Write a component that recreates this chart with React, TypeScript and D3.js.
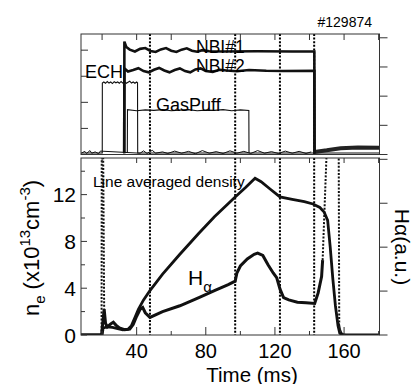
import * as d3 from "d3";

// time axis (ms)
const timeDomain: [number, number] = [7.8, 180.5];
const timeTicks = [20, 40, 60, 80, 100, 120, 140, 160, 180];
const timeLabels = [40, 80, 120, 160];
const eventTimes = [47.7, 97, 122.9, 142.7];

// lower panel axes
const densityTicks = [0, 4, 8, 12];
const densityMinor = [2, 6, 10, 14];
const haTicks = [0, 1, 2, 3, 4];

// upper panel axes (arbitrary units)
const topLeftTicks = [1, 2, 3, 4];
const topRightTicks = [0, 1, 2, 3, 4];

// upper panel traces: [time, level]
const nbi1: [number, number][] = [
  [32.8, 0.05], [32.9, 4.33], [34, 4.12], [36, 4.02], [39, 3.95], [42, 4.05], [45, 4.08], [48, 3.97],
  [51, 3.93], [54, 4.03], [57, 4.08], [60, 3.98], [63, 3.93], [66, 4.02], [69, 4.07], [72, 3.98],
  [75, 3.94], [78, 4.0], [82, 3.96], [90, 3.95], [110, 3.96], [130, 3.95], [142.8, 3.95], [142.9, 0.05],
];
const nbi2: [number, number][] = [
  [32.8, 0.05], [32.9, 3.3], [35, 3.18], [38, 3.24], [41, 3.31], [44, 3.2], [47, 3.15], [50, 3.25],
  [53, 3.32], [56, 3.22], [59, 3.15], [62, 3.24], [65, 3.3], [68, 3.2], [71, 3.15], [74, 3.26],
  [77, 3.3], [80, 3.2], [84, 3.17], [88, 3.25], [92, 3.22], [98, 3.19], [105, 3.24], [115, 3.21],
  [125, 3.2], [142.8, 3.21], [142.9, 0.05],
];
const nbiTail: [number, number][] = [[142.9, 0.1], [150, 0.16], [158, 0.24], [168, 0.27], [180.5, 0.26]];
const ech: [number, number][] = [
  [7.8, 0.06], [20.1, 0.06], [20.15, 2.74], [21, 2.78], [22, 2.73], [23, 2.8], [24, 2.74], [25, 2.78],
  [26, 2.72], [27, 2.79], [28, 2.75], [29, 2.78], [30, 2.73], [31, 2.8], [32, 2.74], [33, 2.78],
  [34, 2.73], [35, 2.77], [36, 2.81], [37, 2.74], [38, 2.78], [39, 2.73], [40, 2.78], [40.5, 2.75],
  [40.6, 0.06], [180.5, 0.06],
];
const gasPuff: [number, number][] = [
  [34.6, 0.06], [34.7, 1.72], [40, 1.68], [45, 1.71], [50, 1.69], [55, 1.72], [60, 1.68], [65, 1.7],
  [70, 1.72], [75, 1.68], [80, 1.7], [85, 1.69], [90, 1.72], [95, 1.68], [100, 1.71], [104.9, 1.69],
  [105, 0.06],
];
const topNoise: [number, number][] = [
  [8, 0.05], [10, 0.12], [11, 0.04], [13, 0.15], [14, 0.05], [16, 0.1], [18, 0.03], [19, 0.13],
  [42, 0.05], [44, 0.14], [46, 0.04], [49, 0.16], [51, 0.05], [55, 0.1], [58, 0.04], [62, 0.13],
  [66, 0.05], [70, 0.12], [74, 0.03], [78, 0.15], [82, 0.05], [86, 0.11], [90, 0.04], [94, 0.14],
  [98, 0.05], [102, 0.12], [106, 0.04], [110, 0.15], [114, 0.05], [118, 0.11], [122, 0.04],
  [126, 0.13], [130, 0.05], [134, 0.12], [138, 0.04], [141, 0.1],
];

// lower panel traces: [time, value]
const density: [number, number][] = [
  [7.8, 0], [20, 0], [20.6, 0.6], [23, 0.7], [26, 0.65], [29, 0.55], [32, 0.45], [35, 0.5], [37, 0.8],
  [39, 1.5], [41, 2.2], [44, 3.0], [47.7, 3.8], [55, 5.2], [65, 6.9], [76, 8.7], [85, 10.1], [97, 11.8],
  [103, 12.6], [108.5, 13.4], [112, 13.1], [117, 12.5], [122.9, 11.8], [130, 11.6], [137, 11.4],
  [142, 11.2], [146, 10.9], [148.5, 10.5], [150.5, 9.8], [152, 7.5], [153.5, 4.8], [155, 2.5],
  [156.5, 0.8], [157.5, 0.15], [159, 0], [180.5, 0],
];
const haMain: [number, number][] = [
  [7.8, 0], [19.7, 0], [21.2, 2.2], [22, 1.0], [23, 0.7], [25, 0.95], [26.5, 1.1], [28, 0.85], [30, 0.6],
  [33, 0.45], [36, 0.5], [38, 0.9], [40, 1.6], [42, 2.2], [43.5, 2.35], [45, 1.9], [47.7, 1.5], [55, 2.0],
  [65, 2.5], [76, 3.2], [85, 3.8], [93, 4.3], [97, 4.6], [98, 5.3], [100, 5.9], [104, 6.5], [108, 6.9],
  [110, 7.0], [113, 6.8], [116, 6.0], [119, 5.3], [121, 4.9], [123, 3.9], [125, 3.2], [128, 3.0],
  [133, 2.8], [138, 2.75], [143, 2.7], [145, 3.6], [147, 5.0], [147.6, 6.4],
];
const haStartSpike: [number, number][] = [[19.7, 0], [19.8, 16], [20.6, 16], [21.2, 2.2]];
const haRiseSpike: [number, number][] = [[147.6, 6.4], [150, 16]];
const haFallSpike: [number, number][] = [[156.9, 16], [157.2, 1.0]];
const haTail: [number, number][] = [[157.2, 1.0], [157.8, 0.5], [158.6, 0.2], [160, 0.05], [163, 0], [180.5, 0]];

const W = 414;
const H = 384;
const left = 81;
const right = 379.5;
const top1 = 34;
const bot1 = 154.5;
const top2 = 158;
const bot2 = 335;
const font = "'Liberation Sans', Arial, Helvetica, sans-serif";

export default function App() {
  const x = d3.scaleLinear().domain(timeDomain).range([left, right]);
  const yTop = d3.scaleLinear().domain([0, 4.62]).range([bot1, top1]);
  const yTopR = d3.scaleLinear().domain([0, 4.13]).range([bot1, top1]);
  const yDen = d3.scaleLinear().domain([0, 15.13]).range([bot2, top2]);
  const yHa = d3.scaleLinear().domain([0, 4.03]).range([bot2, top2]);

  const topLine = d3.line<[number, number]>().x((d) => x(d[0])).y((d) => yTop(d[1]));
  const botLine = d3.line<[number, number]>().x((d) => x(d[0])).y((d) => yDen(d[1]));

  return (
    <svg width={W} height={H} viewBox={`0 0 ${W} ${H}`} style={{ position: "absolute", left: 0, top: 0, background: "white" }} fontFamily={font}>
      <defs>
        <clipPath id="clipTop"><rect x={left} y={top1} width={right - left} height={bot1 - top1} /></clipPath>
        <clipPath id="clipBot"><rect x={left} y={top2} width={right - left} height={bot2 - top2} /></clipPath>
      </defs>
      <rect width={W} height={H} fill="white" />

      {/* event markers */}
      {eventTimes.map((t) => (
        <g key={t}>
          <line x1={x(t)} x2={x(t)} y1={top1} y2={bot1} stroke="#000" strokeWidth={2} strokeDasharray="2 1.6" />
          <line x1={x(t)} x2={x(t)} y1={top2} y2={bot2} stroke="#000" strokeWidth={2} strokeDasharray="2 1.6" />
        </g>
      ))}

      {/* upper panel traces */}
      <g clipPath="url(#clipTop)" fill="none" stroke="#111">
        <path d={topLine(topNoise) ?? ""} strokeWidth={1} />
        <path d={topLine(ech) ?? ""} strokeWidth={1.1} />
        <path d={topLine(gasPuff) ?? ""} strokeWidth={1.1} />
        <path d={topLine(nbiTail) ?? ""} strokeWidth={4} stroke="#222" />
        <path d={topLine(nbi2) ?? ""} strokeWidth={2.6} />
        <path d={topLine(nbi1) ?? ""} strokeWidth={2.6} />
      </g>

      {/* lower panel traces */}
      <g clipPath="url(#clipBot)" fill="none" stroke="#111">
        <path d={botLine(haStartSpike) ?? ""} strokeWidth={2} strokeDasharray="2 1.6" />
        <path d={botLine(haRiseSpike) ?? ""} strokeWidth={2} strokeDasharray="2 1.6" />
        <path d={botLine(haFallSpike) ?? ""} strokeWidth={2} strokeDasharray="2 1.6" />
        <path d={botLine(haTail) ?? ""} strokeWidth={1.3} />
        <path d={botLine(haMain) ?? ""} strokeWidth={3} />
        <path d={botLine(density) ?? ""} strokeWidth={2.8} />
      </g>

      {/* frames */}
      <rect x={left} y={top1} width={right - left} height={bot1 - top1} fill="none" stroke="#333" strokeWidth={1} />
      <rect x={left} y={top2} width={right - left} height={bot2 - top2} fill="none" stroke="#333" strokeWidth={1} />

      {/* time ticks */}
      {timeTicks.map((t) => (
        <g key={t} stroke="#333" strokeWidth={1}>
          <line x1={x(t)} x2={x(t)} y1={top1} y2={top1 + 6} />
          <line x1={x(t)} x2={x(t)} y1={top2} y2={top2 + 5} />
          <line x1={x(t)} x2={x(t)} y1={bot2} y2={bot2 - (timeLabels.includes(t) ? 8 : 4)} />
        </g>
      ))}

      {/* upper panel side ticks */}
      {topLeftTicks.map((v) => (
        <line key={`tl${v}`} x1={left} x2={left + 7} y1={yTop(v)} y2={yTop(v)} stroke="#333" />
      ))}
      {topRightTicks.map((v) => (
        <line key={`tr${v}`} x1={right} x2={right + 8} y1={yTopR(v)} y2={yTopR(v)} stroke="#333" />
      ))}

      {/* lower panel side ticks */}
      {densityTicks.concat(densityMinor).map((v) => (
        <line key={`dl${v}`} x1={left} x2={left + (densityTicks.includes(v) ? 6 : 4)} y1={yDen(v)} y2={yDen(v)} stroke="#333" />
      ))}
      {haTicks.map((v) => (
        <line key={`hr${v}`} x1={right} x2={right + 8} y1={yHa(v)} y2={yHa(v)} stroke="#333" />
      ))}

      {/* tick labels */}
      {densityTicks.map((v) => (
        <text key={`dt${v}`} x={76} y={yDen(v) + 7.5} textAnchor="end" fontSize={21}>{v}</text>
      ))}
      {timeLabels.map((t) => (
        <text key={`xt${t}`} x={x(t)} y={358} textAnchor="middle" fontSize={20}>{t}</text>
      ))}
      <text x={252} y={381.5} textAnchor="middle" fontSize={20.5}>Time (ms)</text>

      {/* axis titles */}
      <text transform="translate(39,248) rotate(-90)" textAnchor="middle" fontSize={22}>
        n<tspan fontSize={15} dy={6}>e</tspan>
        <tspan dy={-6}> (x10</tspan>
        <tspan fontSize={15} dy={-9}>13</tspan>
        <tspan dy={9}>cm</tspan>
        <tspan fontSize={15} dy={-9}>-3</tspan>
        <tspan dy={9}>)</tspan>
      </text>
      <text transform="translate(395,247) rotate(90)" textAnchor="middle" fontSize={21}>Hα(a.u.)</text>

      {/* in-plot labels */}
      <text x={372} y={26.5} textAnchor="end" fontSize={14}>#129874</text>
      <text x={196} y={52.8} fontSize={17.5}>NBI#1</text>
      <text x={196} y={71.5} fontSize={17.5}>NBI#2</text>
      <text x={85} y={78.3} fontSize={18}>ECH</text>
      <text x={156} y={110.5} fontSize={18}>GasPuff</text>
      <text x={93} y={187} fontSize={15.5}>Line averaged density</text>
      <text x={188} y={284.5} fontSize={21}>
        H<tspan fontSize={15} dy={7}>α</tspan>
      </text>
    </svg>
  );
}
